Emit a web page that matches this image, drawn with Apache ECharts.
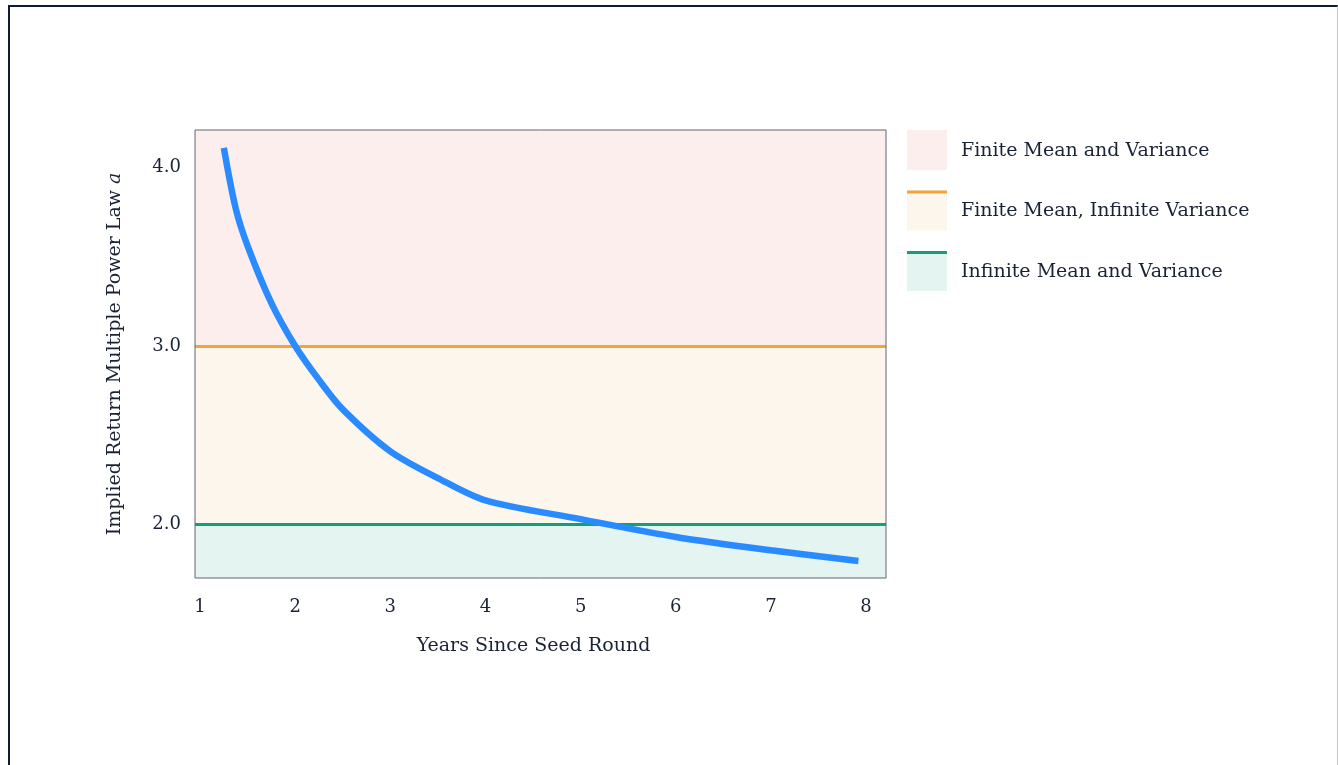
<!DOCTYPE html>
<html>
<head>
<meta charset="utf-8">
<script src="https://cdn.jsdelivr.net/npm/echarts@6/dist/echarts.min.js"></script>
<style>
  html, body { margin: 0; padding: 0; background: #ffffff; }
  #frame { position: absolute; left: 8px; top: 5px; width: 1327px; height: 780px;
           border-top: 2px solid #0f1a33; border-left: 2px solid #0f1a33; border-right: 1px solid #c8c8c8; }
  #chart { position: absolute; left: 0; top: 0; width: 1338px; height: 765px; }
</style>
</head>
<body>
<div id="frame"></div>
<div id="chart"></div>
<script>
// Data
const years = [1.25, 1.375, 1.5, 1.75, 2.0, 2.25, 2.5, 3.0, 3.5, 4.0, 5.0, 6.0, 7.0, 7.92];
const alphaValues = [4.11, 3.77, 3.56, 3.24, 3.0, 2.81, 2.645, 2.41, 2.26, 2.135, 2.03, 1.93, 1.855, 1.795];
const xTicks = [1, 2, 3, 4, 5, 6, 7, 8];
const yTicks = [2, 3, 4];
const thresholds = [3, 2];
const legendNames = ['Finite Mean and Variance', 'Finite Mean, Infinite Variance', 'Infinite Mean and Variance'];

const FONT = 'DejaVu Serif';
const TXT = '#1a2236';
const X_MIN = 0.947, X_MAX = 8.21, Y_MIN = 1.70, Y_MAX = 4.21;

const chart = echarts.init(document.getElementById('chart'), null, { renderer: 'canvas' });

const legendTop = 130, legendStep = 60.5;
const bandColors = ['#fdeeee', '#fdf6ec', '#e4f4f0'];
const lineColors = [null, '#f2a33a', '#12a07a'];
const graphic = [];
legendNames.forEach((n, i) => {
  const y = legendTop + i * legendStep;
  graphic.push({ type: 'rect', left: 907, top: y, shape: { width: 40, height: 40 }, style: { fill: bandColors[i] }, silent: true });
  if (lineColors[i]) {
    graphic.push({ type: 'rect', left: 907, top: y, shape: { width: 40, height: 3 }, style: { fill: lineColors[i] }, silent: true });
  }
  graphic.push({ type: 'text', x: 961, y: y + 21, style: { text: n, font: '19px "' + FONT + '"', fill: TXT, verticalAlign: 'middle' }, silent: true });
});

const option = {
  animation: false,
  backgroundColor: 'transparent',
  grid: { left: 195, top: 130, right: 452, bottom: 187, show: true, borderColor: '#5f6672', borderWidth: 1, backgroundColor: 'transparent', z: 10 },
  xAxis: {
    type: 'value', min: X_MIN, max: X_MAX,
    name: 'Years Since Seed Round', nameLocation: 'middle', nameGap: 59,
    nameTextStyle: { fontFamily: FONT, fontSize: 19, color: TXT, padding: [0, 14, 0, 0] },
    axisLine: { show: false }, axisTick: { show: false }, splitLine: { show: false },
    axisLabel: { customValues: xTicks, fontFamily: FONT, fontSize: 18, color: TXT, margin: 20, formatter: v => String(v) }
  },
  yAxis: {
    type: 'value', min: Y_MIN, max: Y_MAX,
    name: 'Implied Return Multiple Power Law {i|a}', nameLocation: 'middle', nameGap: 70, nameRotate: 90,
    nameTextStyle: { fontFamily: FONT, fontSize: 19, color: TXT, rich: { i: { fontFamily: FONT, fontStyle: 'italic', fontSize: 19, color: TXT } } },
    axisLine: { show: false }, axisTick: { show: false }, splitLine: { show: false },
    axisLabel: { customValues: yTicks, fontFamily: FONT, fontSize: 18, color: TXT, margin: 14, formatter: v => v.toFixed(1) }
  },
  graphic: graphic,
  series: [
    {
      type: 'line', data: [], silent: true, z: 1,
      markArea: {
        silent: true,
        data: [
          [{ yAxis: thresholds[0], itemStyle: { color: bandColors[0] } }, { yAxis: Y_MAX }],
          [{ yAxis: thresholds[1], itemStyle: { color: bandColors[1] } }, { yAxis: thresholds[0] }],
          [{ yAxis: Y_MIN, itemStyle: { color: bandColors[2] } }, { yAxis: thresholds[1] }]
        ]
      },
      markLine: {
        silent: true, symbol: 'none', label: { show: false },
        data: [
          { yAxis: thresholds[0], lineStyle: { color: lineColors[1], width: 3, type: 'solid' } },
          { yAxis: thresholds[1], lineStyle: { color: lineColors[2], width: 3, type: 'solid' } }
        ]
      }
    },
    {
      type: 'line', z: 5,
      data: years.map((x, i) => [x, alphaValues[i]]),
      showSymbol: false, smooth: 0.3,
      lineStyle: { color: '#2a8bff', width: 6.5, cap: 'butt' }
    }
  ]
};
chart.setOption(option);
</script>
</body>
</html>
